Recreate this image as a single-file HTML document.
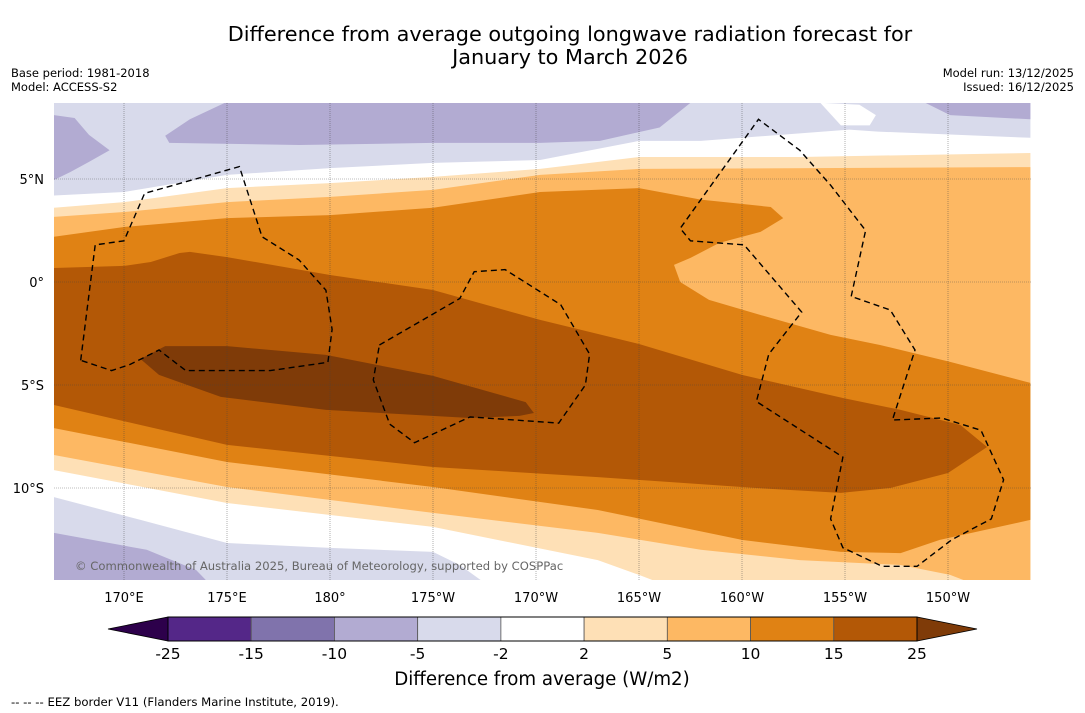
<!DOCTYPE html>
<html><head><meta charset="utf-8"><style>
body{margin:0;background:#fff;width:1085px;height:713px;overflow:hidden;font-family:"DejaVu Sans","Liberation Sans",sans-serif;}
svg{display:block}
</style></head><body>
<svg id="c" width="1085" height="713" xmlns="http://www.w3.org/2000/svg" font-family="DejaVu Sans, Liberation Sans, sans-serif">
<text x="570" y="41" text-anchor="middle" font-size="20.8">Difference from average outgoing longwave radiation forecast for</text>
<text x="570" y="64" text-anchor="middle" font-size="20.8">January to March 2026</text>
<text x="11" y="77" font-size="11.5">Base period: 1981-2018</text>
<text x="11" y="91" font-size="11.5">Model: ACCESS-S2</text>
<text x="1074" y="77" font-size="11.5" text-anchor="end">Model run: 13/12/2025</text>
<text x="1074" y="91" font-size="11.5" text-anchor="end">Issued: 16/12/2025</text>
<defs><clipPath id="mc"><rect x="54" y="103" width="977" height="477"/></clipPath></defs>
<g id="map" clip-path="url(#mc)"></g>
<g id="grid"></g>
<g id="eez" clip-path="url(#mc)"></g>
<text x="75" y="570" font-size="11.6" fill="#666">© Commonwealth of Australia 2025, Bureau of Meteorology, supported by COSPPac</text>
<g id="axes"></g>
<g id="cbar"></g>
<text x="542" y="685" text-anchor="middle" font-size="18.2">Difference from average (W/m2)</text>
<text x="11" y="706" font-size="11.7">--  --  -- EEZ border V11 (Flanders Marine Institute, 2019).</text>
</svg>
<script>
// map extent (degrees east / north)
const lonTicks=[170,175,180,185,190,195,200,205,210];
const lonTickLabels=["170°E","175°E","180°","175°W","170°W","165°W","160°W","155°W","150°W"];
const latTicks=[5,0,-5,-10];
const latTickLabels=["5°N","0°","5°S","10°S"];
const cbLevels=["-25","-15","-10","-5","-2","2","5","10","15","25"];
const cbColors=["#542788","#8073ac","#b2abd2","#d8daeb","#ffffff","#fee0b6","#fdb863","#e08214","#b35806"];
const cbLow="#2d004b", cbHigh="#7f3b08";
// contour regions [lon, lat]
const lpTop=[[166.6,8.7],[214,8.7],[214,7.0],[206.6,7.3],[205.2,7.4],[198,6.85],[195,6.85],[190.2,5.92],[185,5.78],[180,5.53],[175,5.2],[170,4.37],[166.6,4.2]];
const whiteHole=[[203.8,8.7],[204.8,7.6],[206.2,7.6],[206.5,8.1],[205.7,8.6]];
const mpTopL=[[166.6,8.1],[167.6,7.96],[168.3,7.14],[169.3,6.4],[168.3,5.83],[167.4,5.34],[166.6,4.95]];
const mpTopC=[[174.9,8.7],[173.2,7.9],[172,7.1],[172.2,6.75],[178.5,6.65],[185,6.75],[190.2,6.75],[193.1,6.85],[196,7.5],[197.5,8.7]];
const mpTopR=[[208.9,8.7],[210.1,8.1],[214,7.9],[214,8.7]];
const lpBot=[[166.6,-10.44],[170.8,-11.55],[175,-12.67],[180,-12.91],[185,-13.1],[186.3,-13.74],[187.5,-14.6],[166.6,-14.6]];
const mpBot=[[166.6,-12.18],[171.1,-13],[173.5,-13.98],[174.1,-14.6],[166.6,-14.6]];
const band2=[[166.6,3.6],[170,3.88],[175,4.56],[180,4.8],[185,5.1],[190.2,5.49],[195,6.07],[202.8,6.07],[214,6.26],[214,-14.6],[196,-14.6],[195,-14.22],[193,-13.5],[185,-11.89],[175,-10.73],[166.6,-9.13]];
const band5=[[166.6,3.16],[170,3.4],[175,3.88],[180,4.13],[185,4.47],[190.2,5.2],[195,5.49],[214,5.58],[214,-14.6],[211.1,-14.6],[210.1,-14.22],[207.7,-13.74],[202.8,-13.5],[198,-13],[193,-12.18],[185,-11.21],[175,-9.95],[166.6,-8.4]];
const band10=[[166.6,2.2],[170,2.67],[175,3.1],[180,3.25],[185,3.6],[190.2,4.37],[195,4.56],[198,4],[201.4,3.64],[202,3.1],[200.9,2.43],[198.9,1.9],[197.5,1.17],[196.7,0.83],[197,0],[198.4,-0.87],[200.9,-1.6],[204.3,-2.57],[206.7,-3.06],[210.1,-3.88],[214,-4.9],[214,-11.55],[209.6,-12.52],[207.7,-13.16],[204.8,-13.1],[200,-12.52],[193,-11.07],[185,-9.95],[175,-8.74],[166.6,-7.09]];
const band15=[[166.6,0.68],[170,0.78],[171.3,0.97],[172.7,1.41],[173.2,1.46],[175,1.21],[180,0.34],[185,-0.39],[190.2,-1.84],[195,-3.01],[200,-4.51],[204.9,-5.63],[207.7,-6.21],[210.6,-6.94],[211.9,-8.01],[210,-9.27],[207.2,-10],[204.8,-10.24],[200.7,-10],[193,-9.47],[185,-8.98],[175,-7.91],[166.6,-5.97]];
const band25=[[170.8,-3.74],[172,-3.11],[175,-3.11],[179.8,-3.54],[185,-4.56],[189.5,-5.83],[189.9,-6.36],[189.2,-6.5],[186.8,-6.6],[179.8,-6.21],[174.7,-5.58],[171.7,-4.51]];
const eez1=[[167.9,-3.8],[168.6,1.8],[170,2.0],[171,4.3],[175.6,5.6],[176.7,2.2],[178.5,1.07],[179.8,-0.4],[180.1,-2.3],[179.9,-3.9],[177.1,-4.3],[173,-4.3],[171.7,-3.3],[170.3,-4.0],[169.4,-4.3],[167.9,-3.8]];
const eez2=[[182.4,-3.06],[186.3,-0.8],[187,0.5],[188.5,0.6],[191.2,-1.1],[192.6,-3.5],[192.4,-5],[191.1,-6.85],[186.8,-6.55],[184.1,-7.8],[182.9,-6.9],[182.1,-4.75],[182.4,-3.06]];
const eez3=[[205.3,-0.7],[206,2.5],[204.3,4.7],[202.8,6.4],[200.8,7.9],[197,2.6],[197.5,2.0],[200.1,1.8],[202.9,-1.46],[201.3,-3.5],[200.7,-5.8],[204.9,-8.5],[204.3,-11.5],[204.9,-12.9],[206.8,-13.8],[208.5,-13.8],[210.2,-12.5],[212.1,-11.5],[212.7,-9.6],[211.6,-7.2],[209.7,-6.6],[207.3,-6.7],[208.4,-3.3],[207.2,-1.36],[205.3,-0.7]];

const NS="http://www.w3.org/2000/svg";
const X=lon=>124+(lon-170)*20.6;
const Y=lat=>282-lat*20.6;
function mk(parent,tag,attrs){const e=document.createElementNS(NS,tag);for(const k in attrs)e.setAttribute(k,attrs[k]);parent.appendChild(e);return e;}
const pts=a=>a.map(p=>X(p[0]).toFixed(1)+","+Y(p[1]).toFixed(1)).join(" ");
const map=document.getElementById('map');
let bg=mk(map,'rect',{x:54,y:103,width:977,height:477,fill:'#ffffff'});


const layers=[[lpTop,'#d8daeb','light-purple-north'],[whiteHole,'#ffffff','white-patch-north'],[mpTopL,'#b2abd2','purple-northwest'],[mpTopC,'#b2abd2','purple-north'],[mpTopR,'#b2abd2','purple-northeast'],[lpBot,'#d8daeb','light-purple-south'],[mpBot,'#b2abd2','purple-southwest'],[band2,'#fee0b6','band-2-5'],[band5,'#fdb863','band-5-10'],[band10,'#e08214','band-10-15'],[band15,'#b35806','band-15-25'],[band25,'#7f3b08','band-over-25']];
layers.forEach(l=>{const p=mk(map,'polygon',{points:pts(l[0]),fill:l[1]});

});
const grid=document.getElementById('grid');
lonTicks.forEach(v=>{const g=mk(grid,'line',{x1:X(v),x2:X(v),y1:103,y2:580,stroke:'#444','stroke-width':0.6,'stroke-dasharray':'1,1','opacity':0.7});

});
latTicks.forEach(v=>{const g=mk(grid,'line',{x1:54,x2:1031,y1:Y(v),y2:Y(v),stroke:'#444','stroke-width':0.6,'stroke-dasharray':'1,1','opacity':0.7});

});
const eez=document.getElementById('eez');
[eez1,eez2,eez3].forEach(a=>{const p=mk(eez,'polyline',{points:pts(a),fill:'none',stroke:'#000','stroke-width':1.4,'stroke-dasharray':'6,4'});

});
const axes=document.getElementById('axes');
lonTicks.forEach((v,i)=>{const t=mk(axes,'text',{x:X(v),y:602,'text-anchor':'middle','font-size':13});t.textContent=lonTickLabels[i];

});
latTicks.forEach((v,i)=>{const t=mk(axes,'text',{x:44,y:Y(v)+5,'text-anchor':'end','font-size':13});t.textContent=latTickLabels[i];

});
const cb=document.getElementById('cbar');
const cx0=168,cx1=917,cy=617,ch=24,cw=(cx1-cx0)/cbColors.length;
let lt=mk(cb,'polygon',{points:`108,${cy+ch/2} ${cx0},${cy} ${cx0},${cy+ch}`,fill:cbLow,stroke:'#000','stroke-width':0.8});


let rt=mk(cb,'polygon',{points:`977,${cy+ch/2} ${cx1},${cy} ${cx1},${cy+ch}`,fill:cbHigh,stroke:'#000','stroke-width':0.8});


cbColors.forEach((c,i)=>{const r=mk(cb,'rect',{x:cx0+i*cw,y:cy,width:cw,height:ch,fill:c,stroke:'#555','stroke-width':0.8});

});
mk(cb,'rect',{x:cx0,y:cy,width:cx1-cx0,height:ch,fill:'none',stroke:'#000','stroke-width':1});
cbLevels.forEach((s,i)=>{const t=mk(cb,'text',{x:cx0+i*cw,y:659,'text-anchor':'middle','font-size':15.5});t.textContent=s;

});
</script>
</body></html>
